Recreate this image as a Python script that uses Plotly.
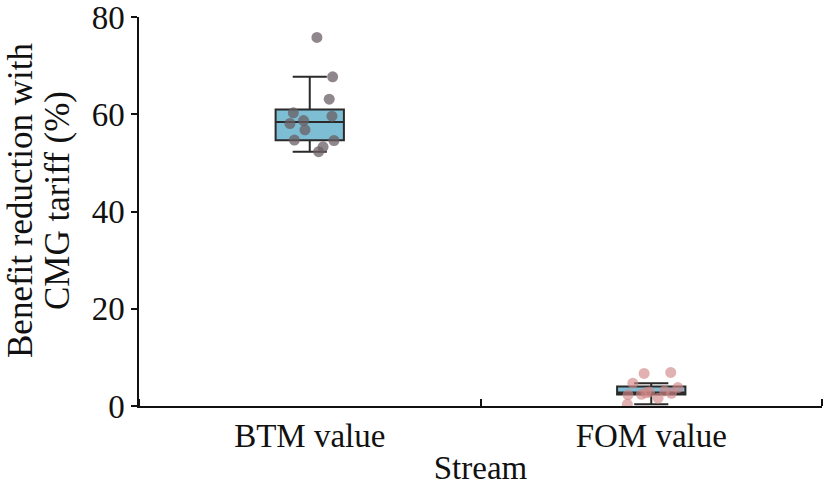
import numpy as np
import plotly.graph_objects as go

categories = ["BTM value", "FOM value"]
cat_pos = [0.5, 1.5]

btm_values = [75.8, 67.7, 63.1, 59.6, 60.3, 58.1, 58.7, 56.8, 54.7, 54.6, 53.3, 52.3]
btm_jitter = [0.021, 0.067, 0.057, 0.065, -0.048, -0.058, -0.018, -0.014, -0.045, 0.071, 0.039, 0.026]

fom_values = [6.7, 6.9, 4.7, 3.8, 2.3, 0.35, 2.4, 1.6, 2.9, 3.1, 2.6, 2.7]
fom_jitter = [-0.021, 0.057, -0.054, 0.078, -0.068, -0.070, -0.029, 0.020, -0.005, 0.039, 0.059, -0.015]

y_title_lines = ["Benefit reduction with", "CMG tariff (%)"]

series = [
    (btm_values, btm_jitter, "rgba(105,95,100,0.75)"),
    (fom_values, fom_jitter, "rgba(210,135,135,0.65)"),
]


def box_stats(vals):
    a = np.asarray(vals, dtype=float)
    q1, med, q3 = np.percentile(a, [25, 50, 75])
    iqr = q3 - q1
    lo = a[a >= q1 - 1.5 * iqr].min()
    hi = a[a <= q3 + 1.5 * iqr].max()
    return q1, med, q3, lo, hi


FONT = "Liberation Serif"
FS = 33
TXT = dict(family=FONT, size=FS, color="#111")
YT = dict(family=FONT, size=35, color="#111")
fig = go.Figure()

for (vals, jit, col), pos in zip(series, cat_pos):
    q1, med, q3, lo, hi = box_stats(vals)
    fig.add_trace(go.Box(
        x=[pos], q1=[q1], median=[med], q3=[q3], lowerfence=[lo], upperfence=[hi],
        width=0.2, boxpoints=False,
        fillcolor="rgb(125,190,212)", line=dict(color="#2a2a2a", width=2),
        whiskerwidth=0.5, showlegend=False, hoverinfo="skip",
    ))
for (vals, jit, col), pos in zip(series, cat_pos):
    fig.add_trace(go.Scatter(
        x=[pos + j for j in jit], y=vals, mode="markers",
        marker=dict(size=11, color=col, line=dict(width=0)),
        showlegend=False,
    ))

PLOT_L, PLOT_W = 139, 683.0
for txt, xpx in zip(y_title_lines, [21, 58]):
    fig.add_annotation(
        text=txt, xref="paper", yref="paper",
        x=(xpx - PLOT_L) / PLOT_W, y=0.527, xanchor="center", yanchor="middle",
        textangle=-90, showarrow=False, font=YT, borderpad=0,
    )

fig.update_layout(
    width=826, height=490,
    margin=dict(l=PLOT_L, r=4, t=17, b=84),
    paper_bgcolor="white", plot_bgcolor="white",
    font=TXT,
    xaxis=dict(
        range=[0, 2], tickmode="array", tickvals=cat_pos, ticktext=categories,
        tickfont=TXT, ticklabeloverflow="allow",
        ticks="", showline=True, linecolor="#111", linewidth=1.5,
        showgrid=False, zeroline=False, automargin=False,
        title=dict(text="Stream", standoff=3, font=TXT),
        minor=dict(tickmode="array", tickvals=[0, 1, 2], ticks="inside",
                   ticklen=7, tickcolor="#111", tickwidth=1.5, showgrid=False),
    ),
    yaxis=dict(
        range=[0, 80], tickvals=[0, 20, 40, 60, 80],
        tickfont=TXT, ticklabeloverflow="allow",
        ticks="outside", ticklen=6, tickcolor="#111", tickwidth=1.5,
        showline=True, linecolor="#111", linewidth=1.5,
        showgrid=False, zeroline=False, automargin=False,
    ),
)

fig.write_html("out.html", config={"displayModeBar": False},
               post_script="document.body.style.margin='0';")
